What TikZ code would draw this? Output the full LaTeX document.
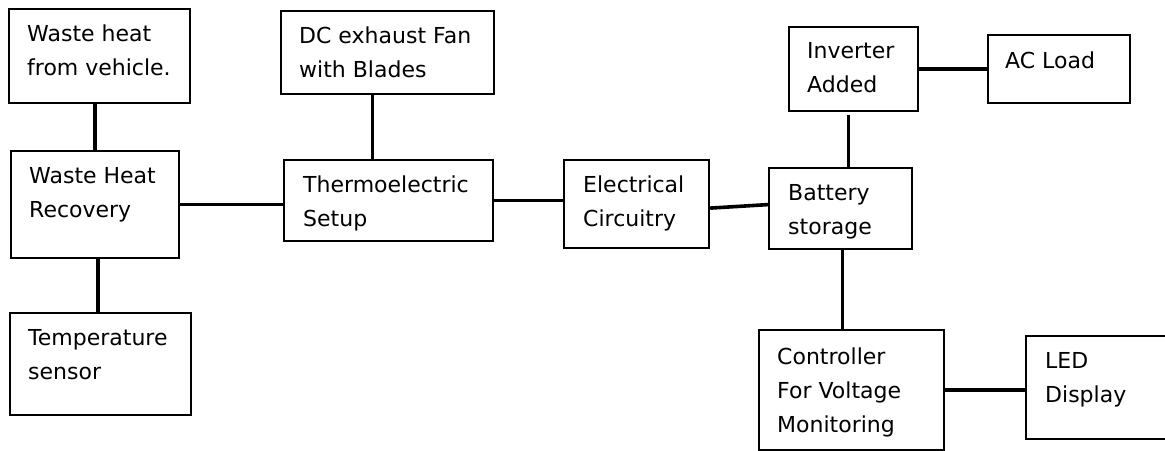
\documentclass[tikz,border=0pt]{standalone}
\usepackage{fontspec}
\setmainfont{DejaVu Sans}
\begin{document}
\begin{tikzpicture}[x=1pt,y=-1pt,
  blk/.style={draw, line width=2.2pt, anchor=north west, inner sep=0},
  lbl/.style={anchor=north west, align=left, inner sep=0,
    font=\fontsize{22}{34}\selectfont},
  wire/.style={line width=3.6pt}]
\useasboundingbox (0,0) rectangle (1165,450);

% ===== Left column: heat source =====
\node[blk, minimum width=181, minimum height=94] (vehicle) at (8,8) {};
\node[lbl] (vehicleT) at (27,25) {Waste heat\\from vehicle.};
\node[blk, minimum width=168, minimum height=107] (recovery) at (10,150) {};
\node[lbl] (recoveryT) at (29,167) {Waste Heat\\Recovery};
\node[blk, minimum width=181, minimum height=102] (sensor) at (9,312) {};
\node[lbl] (sensorT) at (28,329) {Temperature\\sensor};

% ===== Conversion =====
\node[blk, minimum width=213, minimum height=83] (fan) at (280,10) {};
\node[lbl] (fanT) at (299,27) {DC exhaust Fan\\with Blades};
\node[blk, minimum width=209, minimum height=81] (thermo) at (283,159) {};
\node[lbl] (thermoT) at (303,176) {Thermoelectric\\Setup};
\node[blk, minimum width=145, minimum height=88] (elec) at (563,159) {};
\node[lbl] (elecT) at (583,176) {Electrical\\Circuitry};

% ===== Storage and loads =====
\node[blk, minimum width=143, minimum height=81] (battery) at (768,167) {};
\node[lbl] (batteryT) at (788,184) {Battery\\storage};
\node[blk, minimum width=129, minimum height=84] (inverter) at (788,26) {};
\node[lbl] (inverterT) at (807,42) {Inverter\\Added};
\node[blk, minimum width=142, minimum height=68] (acload) at (987,34) {};
\node[lbl] (acloadT) at (1005,52) {AC Load};
\node[blk, minimum width=185, minimum height=120] (ctrl) at (758,329) {};
\node[lbl] (ctrlT) at (777,348) {Controller\\For Voltage\\Monitoring};
\node[blk, minimum width=145, minimum height=103] (led) at (1025,335) {};
\node[lbl] (ledT) at (1045,352) {LED\\Display};

% ===== Connectors =====
\draw[wire] (recovery.north) -- (recovery.north |- vehicle.south);
\draw[wire] ([xshift=3]recovery.south) -- ([xshift=3]recovery.south |- sensor.north);
\draw[wire] (recovery.east) -- (recovery.east -| thermo.west);
\draw[wire] ([xshift=-15]fan.south) -- ([xshift=-15]fan.south |- thermo.north);
\draw[wire] (thermo.east) -- (thermo.east -| elec.west);
\draw[wire] ([yshift=-4]elec.east) -- ([yshift=4]battery.west);
\draw[wire] ([xshift=8]battery.north) -- ([xshift=8,yshift=-3]battery.north |- inverter.south);
\draw[wire] (inverter.east) -- (inverter.east -| acload.west);
\draw[wire] ([xshift=2]battery.south) -- ([xshift=2]battery.south |- ctrl.north);
\draw[wire] (ctrl.east) -- (ctrl.east -| led.west);

\end{tikzpicture}
\end{document}
